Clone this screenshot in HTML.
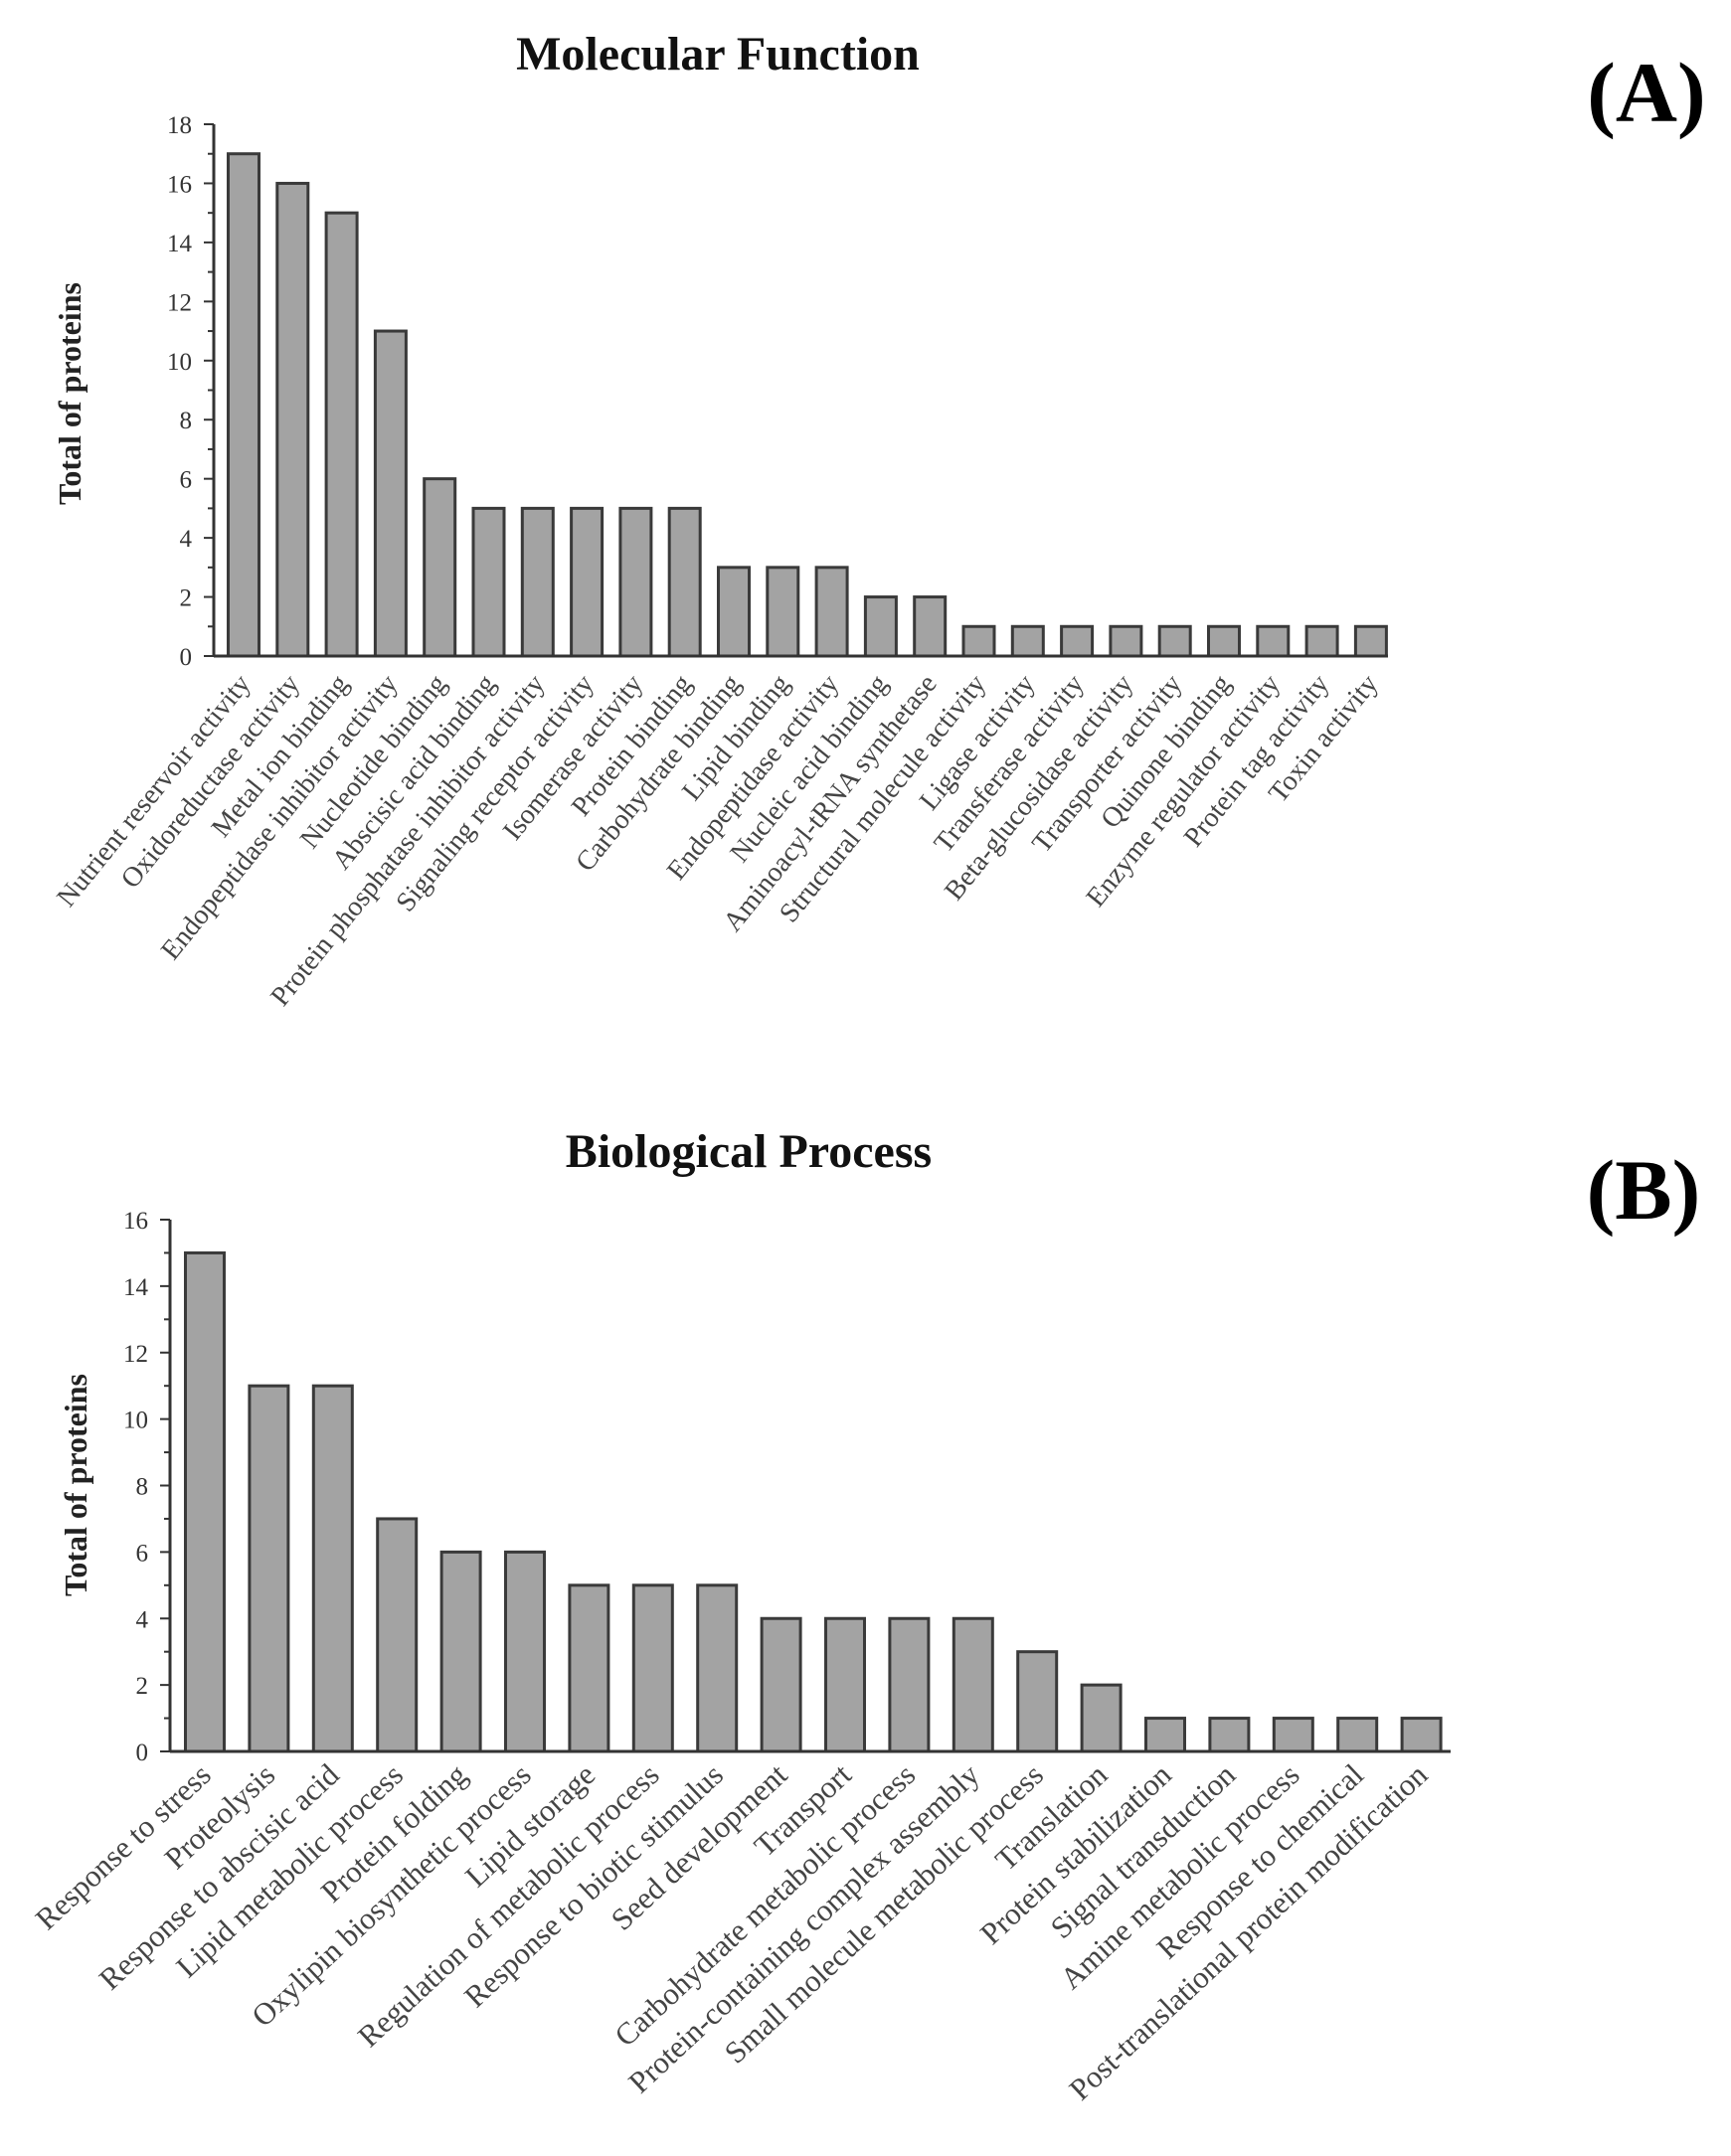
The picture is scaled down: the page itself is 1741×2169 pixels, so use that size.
<!DOCTYPE html>
<html><head><meta charset="utf-8"><style>
body{margin:0;background:#fff}
svg{display:block;font-family:"Liberation Serif",serif}
</style></head><body>
<svg id="svg" width="1741" height="2169" viewBox="0 0 1741 2169">
<text x="722" y="70" text-anchor="middle" font-size="48" font-weight="bold" fill="#111">Molecular Function</text>
<text x="1656" y="122" text-anchor="middle" font-size="86" font-weight="bold" fill="#000">(A)</text>
<text transform="translate(81,396) rotate(-90)" text-anchor="middle" font-size="32" font-weight="bold" fill="#222">Total of proteins</text>
<text x="753" y="1174" text-anchor="middle" font-size="48" font-weight="bold" fill="#111">Biological Process</text>
<text x="1653" y="1226" text-anchor="middle" font-size="86" font-weight="bold" fill="#000">(B)</text>
<text transform="translate(87,1494) rotate(-90)" text-anchor="middle" font-size="32" font-weight="bold" fill="#222">Total of proteins</text>
<g id="ga"></g>
<g id="gb"></g>
</svg>
<script>
const catsA=["Nutrient reservoir activity","Oxidoreductase activity","Metal ion binding","Endopeptidase inhibitor activity","Nucleotide binding","Abscisic acid binding","Protein phosphatase inhibitor activity","Signaling receptor activity","Isomerase activity","Protein binding","Carbohydrate binding","Lipid binding","Endopeptidase activity","Nucleic acid binding","Aminoacyl-tRNA synthetase","Structural molecule activity","Ligase activity","Transferase activity","Beta-glucosidase activity","Transporter activity","Quinone binding","Enzyme regulator activity","Protein tag activity","Toxin activity"];
const valsA=[17,16,15,11,6,5,5,5,5,5,3,3,3,2,2,1,1,1,1,1,1,1,1,1];
const ticksA=[0,2,4,6,8,10,12,14,16,18];
const catsB=["Response to stress","Proteolysis","Response to abscisic acid","Lipid metabolic process","Protein folding","Oxylipin biosynthetic process","Lipid storage","Regulation of metabolic process","Response to biotic stimulus","Seed development","Transport","Carbohydrate metabolic process","Protein-containing complex assembly","Small molecule metabolic process","Translation","Protein stabilization","Signal transduction","Amine metabolic process","Response to chemical","Post-translational protein modification"];
const valsB=[15,11,11,7,6,6,5,5,5,4,4,4,4,3,2,1,1,1,1,1];
const ticksB=[0,2,4,6,8,10,12,14,16];
const NS="http://www.w3.org/2000/svg";
function mk(p,t,a){const e=document.createElementNS(NS,t);for(const k in a)e.setAttribute(k,a[k]);p.appendChild(e);return e;}
function chart(g,cats,vals,ticks,o){
  const max=ticks[ticks.length-1];
  const y=v=>o.y0-(o.y0-o.yTop)*v/max;
  const x=i=>o.x0+o.first+i*o.step;
  const ax=mk(g,'line',{x1:o.x0,y1:o.yTop,x2:o.x0,y2:o.y0,stroke:'#333','stroke-width':3});
  
  
  for(let v=0;v<=max;v++){
    const t=mk(g,'line',{x1:o.x0-(v%2?6:10),y1:y(v),x2:o.x0,y2:y(v),stroke:'#333','stroke-width':2});
    
    
  }
  ticks.forEach(v=>{
    const t=mk(g,'text',{x:o.x0-22,y:y(v)+9,'text-anchor':'end','font-size':o.tfs,fill:'#333'});
    t.textContent=v;
    
    
  });
  vals.forEach((v,i)=>{
    const r=mk(g,'rect',{x:x(i)-o.bw/2,y:y(v),width:o.bw,height:o.y0-y(v),fill:'#a3a3a3',stroke:'#3a3a3a','stroke-width':3});
    
    
  });
  const xa=mk(g,'line',{x1:o.x0,y1:o.y0,x2:o.xEnd,y2:o.y0,stroke:'#333','stroke-width':3});
  
  
  cats.forEach((c,i)=>{
    const px=x(i)+8, py=o.y0+o.ly;
    const t=mk(g,'text',{x:px,y:py,'text-anchor':'end','font-size':o.lfs,fill:'#444',transform:`rotate(${-o.ang} ${px} ${py})`});
    t.textContent=c;
    
    
  });
}
chart(document.getElementById('ga'),catsA,valsA,ticksA,{x0:215,xEnd:1396,y0:660,yTop:125,first:30,step:49.3,bw:31,tfs:25,lfs:28,ang:51,ly:28});
chart(document.getElementById('gb'),catsB,valsB,ticksB,{x0:171,xEnd:1459,y0:1762,yTop:1227,first:35,step:64.4,bw:39,tfs:25,lfs:31,ang:43,ly:26});
</script>
</body></html>
